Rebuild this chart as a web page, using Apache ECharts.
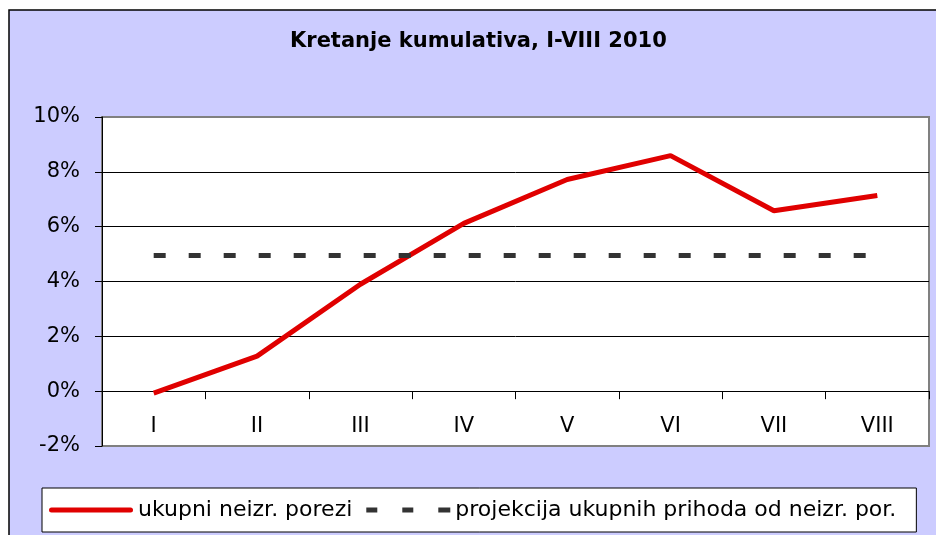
<!DOCTYPE html>
<html>
<head>
<meta charset="utf-8">
<script src="https://cdn.jsdelivr.net/npm/echarts@6/dist/echarts.min.js"></script>
<style>
html,body{margin:0;padding:0;background:#fff;}
#chart{width:936px;height:535px;}
</style>
</head>
<body>
<div id="chart"></div>
<script>
var categories = ['I', 'II', 'III', 'IV', 'V', 'VI', 'VII', 'VIII'];
var taxValues = [-0.07, 1.28, 3.9, 6.12, 7.72, 8.59, 6.58, 7.14];
var projectionValues = [4.95, 4.95, 4.95, 4.95, 4.95, 4.95, 4.95, 4.95];
var seriesNames = ['ukupni neizr. porezi', 'projekcija ukupnih prihoda od neizr. por.'];
var titleText = 'Kretanje kumulativa, I-VIII 2010';

var FONT = 'DejaVu Sans, Arial, sans-serif';
var chart = echarts.init(document.getElementById('chart'));
chart.setOption({
  backgroundColor: '#ffffff',
  animation: false,
  graphic: [{
    type: 'rect', z: -100, silent: true,
    shape: { x: 9, y: 10, width: 940, height: 540 },
    style: { fill: '#CCCCFF', stroke: '#000000', lineWidth: 1.5 }
  }],
  title: {
    text: titleText, left: 290, top: 31, padding: 0,
    textStyle: { fontFamily: FONT, fontWeight: 'bold', fontSize: 21, color: '#000' }
  },
  grid: {
    left: 102, top: 117, right: 7, bottom: 89,
    show: true, backgroundColor: '#ffffff', borderColor: '#808080', borderWidth: 2
  },
  legend: {
    left: 42, top: 488, padding: [11, 20, 11, 7],
    backgroundColor: '#ffffff', borderColor: '#000000', borderWidth: 1,
    itemWidth: 84, itemHeight: 5, itemGap: 14, symbolKeepAspect: false,
    textStyle: { fontFamily: FONT, fontSize: 22, color: '#000' },
    data: [
      { name: seriesNames[0], icon: 'path://M2.5,0H81.5A2.5,2.5,0,0,1,81.5,5H2.5A2.5,2.5,0,0,1,2.5,0Z' },
      { name: seriesNames[1], icon: 'path://M0,0H11V5H0Z M36,0H47V5H36Z M72,0H84V5H72Z' }
    ]
  },
  xAxis: {
    type: 'category', data: categories, boundaryGap: true,
    axisLine: { onZero: true, lineStyle: { color: '#000', width: 1 } },
    axisTick: { show: true, length: 8, lineStyle: { color: '#000' } },
    axisLabel: { margin: -30, fontFamily: FONT, fontSize: 21, color: '#000' },
    splitLine: { show: false }
  },
  yAxis: {
    type: 'value', min: -2, max: 10, interval: 2,
    axisLine: { show: true, onZero: false, lineStyle: { color: '#000', width: 1 } },
    axisTick: { show: true, length: 7, lineStyle: { color: '#000' } },
    axisLabel: { margin: 22, formatter: '{value}%', fontFamily: FONT, fontSize: 21, color: '#000' },
    splitLine: { show: true, lineStyle: { color: ['#808080', '#000', '#000', '#000', '#000', '#000', '#808080'], width: 1 } }
  },
  series: [{
    name: seriesNames[0], type: 'line', data: taxValues,
    symbol: 'none', lineStyle: { color: '#E00000', width: 5 }, itemStyle: { color: '#E00000' }
  }, {
    name: seriesNames[1], type: 'line', data: projectionValues,
    symbol: 'none', lineStyle: { color: '#333333', width: 5, type: [12, 23], cap: 'butt' },
    itemStyle: { color: '#333333' }
  }]
});
</script>
</body>
</html>
